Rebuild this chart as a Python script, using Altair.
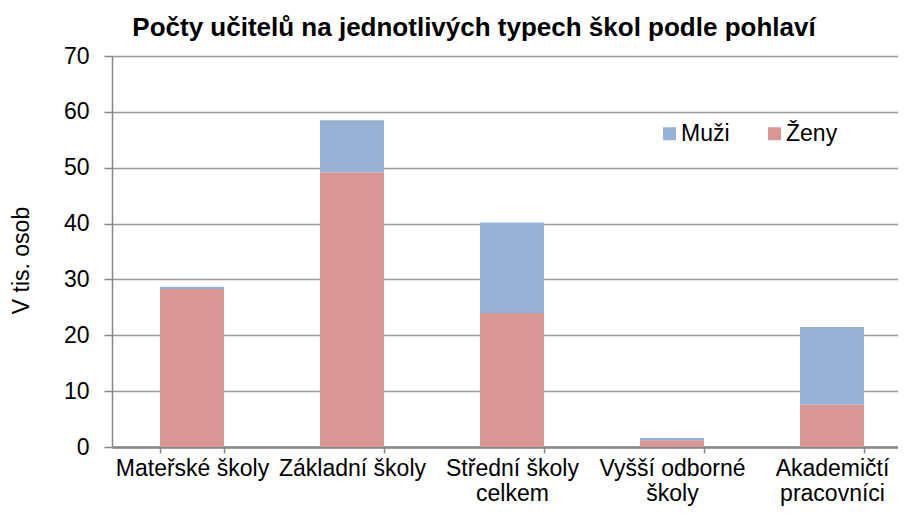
import altair as alt
import pandas as pd

kategorie = ["Mateřské školy", "Základní školy", "Střední školy\ncelkem",
             "Vyšší odborné\nškoly", "Akademičtí\npracovníci"]
zeny = [28.3, 49.2, 24.0, 1.2, 7.6]
muzi = [0.4, 9.3, 16.2, 0.4, 13.9]
skupiny = ["Muži", "Ženy"]
barvy = ["#95b3d7", "#d99694"]

rows = []
for k, z, m in zip(kategorie, zeny, muzi):
    rows.append({"kategorie": k, "pohlavi": "Ženy", "hodnota": z, "poradi": 0})
    rows.append({"kategorie": k, "pohlavi": "Muži", "hodnota": m, "poradi": 1})
df = pd.DataFrame(rows)

FONT = "Liberation Sans"

chart = alt.Chart(df).mark_bar().encode(
    x=alt.X("kategorie:N", sort=kategorie,
            scale=alt.Scale(paddingInner=0.6, paddingOuter=0.3),
            axis=alt.Axis(title=None, labelAngle=0, labelFontSize=23,
                          labelExpr="split(datum.label, '\\n')",
                          labelLineHeight=25, labelPadding=4, labelLimit=300,
                          tickBand="extent", tickSize=6, tickColor="#868686",
                          tickWidth=1.5, domainColor="#868686", domainWidth=2.5,
                          labelColor="#000000", labelFont=FONT)),
    y=alt.Y("hodnota:Q", stack="zero",
            scale=alt.Scale(domain=[0, 70], nice=False),
            axis=alt.Axis(title="V tis. osob", values=[0, 10, 20, 30, 40, 50, 60, 70],
                          labelFontSize=23, labelFont=FONT, labelColor="#000000",
                          labelPadding=15, tickSize=8, tickColor="#868686", tickWidth=1.5,
                          domainColor="#868686", domainWidth=1.5,
                          grid=True, gridColor="#9a9a9a", gridWidth=1.5,
                          titleFontSize=23, titleFont=FONT, titleFontWeight="normal",
                          titleColor="#000000", titleAngle=270, titleX=-91, titleY=204,
                          titleAlign="center", titleBaseline="middle")),
    color=alt.Color("pohlavi:N",
                    scale=alt.Scale(domain=skupiny, range=barvy),
                    legend=alt.Legend(title=None, orient="none", direction="horizontal",
                                      legendX=546, legendY=66, symbolType="square",
                                      symbolSize=169, symbolStrokeWidth=0,
                                      labelFontSize=23, labelFont=FONT, labelColor="#000000",
                                      labelOffset=0, columnPadding=33, padding=0)),
    order=alt.Order("poradi:Q"),
).properties(
    width=800, height=391,
    title=alt.TitleParams("Počty učitelů na jednotlivých typech  škol podle pohlaví",
                          font=FONT, fontSize=26, fontWeight="bold", color="#000000",
                          anchor="middle", dx=-38, offset=4),
    autosize=alt.AutoSizeParams(type="none"),
    padding={"left": 104, "top": 48, "right": -14, "bottom": 60},
).configure_view(stroke=None).configure_axisX(grid=False)

chart.save("out.html", embed_options={"renderer": "svg", "actions": False})
